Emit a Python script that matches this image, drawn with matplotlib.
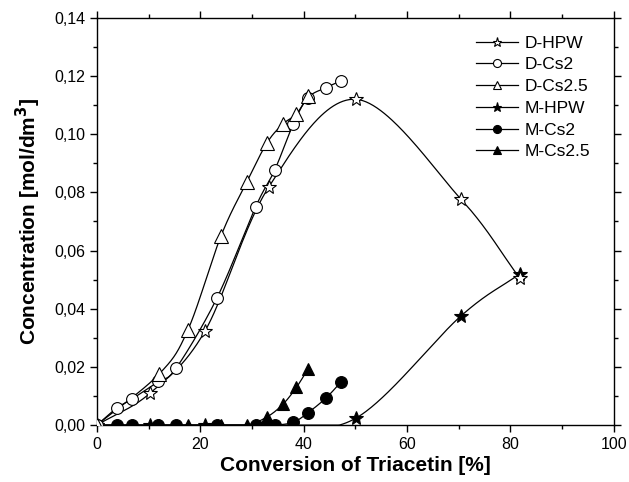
import numpy as np
import matplotlib
matplotlib.use("Agg")
import matplotlib.pyplot as plt
from matplotlib.ticker import MultipleLocator, FuncFormatter
from matplotlib.lines import Line2D

plt.rcParams['font.family'] = ['Liberation Sans', 'DejaVu Sans']

# Data
dhpw_x = [0, 10.3, 20.9, 33.3, 50.1, 70.4, 81.8]
dhpw_y = [0, 0.011, 0.0323, 0.082, 0.112, 0.0777, 0.0505]
dcs2_x = [0, 3.8, 6.8, 11.9, 15.3, 23.2, 30.7, 34.4, 38.0, 40.8, 44.3, 47.2]
dcs2_y = [0, 0.0058, 0.009, 0.015, 0.0195, 0.0436, 0.075, 0.0877, 0.1035, 0.1125, 0.116, 0.1183]
dcs25_x = [0, 12.0, 17.6, 24.0, 29.0, 32.9, 36.0, 38.6, 40.8]
dcs25_y = [0, 0.0175, 0.0327, 0.065, 0.0836, 0.097, 0.1035, 0.107, 0.113]
mhpw_x = [0, 10.3, 20.9, 33.3, 50.1, 70.4, 81.8]
mhpw_y = [0, 0, 0, 0, 0.0024, 0.0375, 0.052]
mcs2_x = [0, 3.8, 6.8, 11.9, 15.3, 23.2, 30.7, 34.4, 38.0, 40.8, 44.3, 47.2]
mcs2_y = [0, 0, 0, 0, 0, 0, 0, 0, 0.001, 0.0042, 0.0093, 0.0148]
mcs25_x = [0, 12.0, 17.6, 24.0, 29.0, 32.9, 36.0, 38.6, 40.8]
mcs25_y = [0, 0, 0, 0, 0, 0.0028, 0.0072, 0.013, 0.0192]

series = [
    ("D-HPW", dhpw_x, dhpw_y, '*', 'white', 10),
    ("D-Cs2", dcs2_x, dcs2_y, 'o', 'white', 8.5),
    ("D-Cs2.5", dcs25_x, dcs25_y, '^', 'white', 9.5),
    ("M-HPW", mhpw_x, mhpw_y, '*', 'black', 10),
    ("M-Cs2", mcs2_x, mcs2_y, 'o', 'black', 8.5),
    ("M-Cs2.5", mcs25_x, mcs25_y, '^', 'black', 9),
]


def smooth(x, y, n=60):
    # Catmull-Rom rendering of the curve through the points
    p = np.column_stack([np.asarray(x, float), np.asarray(y, float) * 700.0])
    pts = np.vstack([2 * p[0] - p[1], p, 2 * p[-1] - p[-2]])
    out = []
    t = np.linspace(0, 1, n)[:, None]
    for i in range(1, len(pts) - 2):
        p0, p1, p2, p3 = pts[i - 1], pts[i], pts[i + 1], pts[i + 2]
        seg = 0.5 * ((2 * p1) + (-p0 + p2) * t + (2 * p0 - 5 * p1 + 4 * p2 - p3) * t**2
                     + (-p0 + 3 * p1 - 3 * p2 + p3) * t**3)
        out.append(seg)
    out = np.vstack(out)
    return out[:, 0], out[:, 1] / 700.0


fig = plt.figure(figsize=(6.29, 4.82), dpi=100)
ax = fig.add_axes([0.154, 0.118, 0.822, 0.845])

order = [3, 4, 5, 0, 1, 2]
for k in order:
    name, x, y, mk, fc, ms = series[k]
    xs, ys = smooth(x, y)
    if name.startswith("M"):
        ys = np.maximum(ys, 0)
    ax.plot(xs, ys, color='black', lw=0.9, zorder=2)
    ax.plot(x, y, linestyle='none', marker=mk, markersize=ms, markerfacecolor=fc,
            markeredgecolor='black', markeredgewidth=0.8, zorder=3)

ax.set_xlim(0, 100)
ax.set_ylim(0, 0.14)
ax.xaxis.set_major_locator(MultipleLocator(20))
ax.xaxis.set_minor_locator(MultipleLocator(10))
ax.yaxis.set_major_locator(MultipleLocator(0.02))
ax.yaxis.set_minor_locator(MultipleLocator(0.01))
ax.yaxis.set_major_formatter(FuncFormatter(lambda v, p: f"{v:.2f}".replace('.', ',')))
ax.xaxis.set_major_formatter(FuncFormatter(lambda v, p: f"{int(round(v))}"))
ax.tick_params(which='major', direction='out', length=5, width=1, labelsize=11.5,
               top=True, right=True)
ax.tick_params(which='minor', direction='out', length=3, width=1, top=True, right=True)
for s in ax.spines.values():
    s.set_linewidth(1.0)

ax.set_xlabel("Conversion of Triacetin [%]", fontsize=15, fontweight='bold', labelpad=3)
ax.set_ylabel("Concentration [mol/dm$^\\mathbf{3}$]", fontsize=15, fontweight='bold', labelpad=8)

handles = []
for name, x, y, mk, fc, ms in series:
    handles.append(Line2D([0], [0], color='black', lw=0.9, marker=mk, markersize=ms * 0.68,
                          markerfacecolor=fc, markeredgecolor='black', markeredgewidth=0.8,
                          label=name))
leg = ax.legend(handles=handles, loc='upper right', frameon=False, fontsize=12.5,
                handlelength=2.4, labelspacing=0.38, handletextpad=0.4,
                bbox_to_anchor=(0.985, 0.995))

fig.savefig("out.png", dpi=100)
